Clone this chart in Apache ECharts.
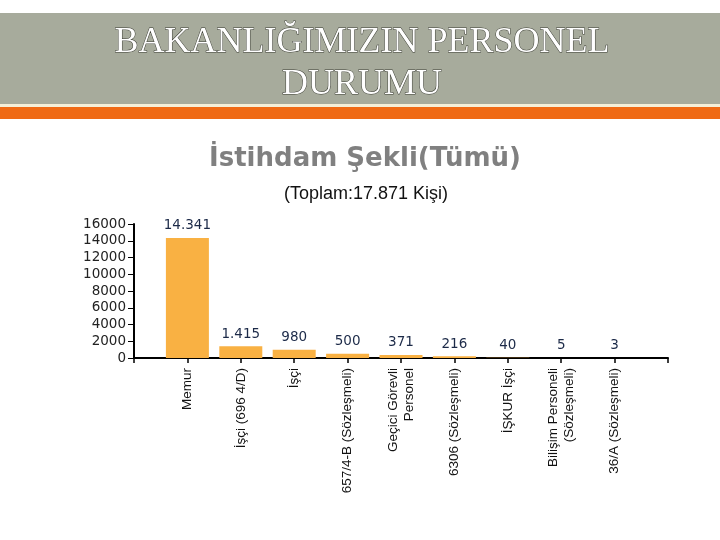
<!DOCTYPE html>
<html>
<head>
<meta charset="utf-8">
<script src="https://cdn.jsdelivr.net/npm/echarts@6/dist/echarts.min.js"></script>
<style>
html,body{margin:0;padding:0;background:#ffffff;}
#main{width:720px;height:540px;}
</style>
</head>
<body>
<div id="main"></div>
<script>
const bannerTitle = 'BAKANLIĞIMIZIN PERSONEL\nDURUMU';
const chartTitle = 'İstihdam Şekli(Tümü)';
const chartSubtitle = '(Toplam:17.871 Kişi)';
const categories = ['Memur', 'İşçi (696 4/D)', 'İşçi', '657/4-B (Sözleşmeli)', 'Geçici Görevli\nPersonel', '6306 (Sözleşmeli)', 'İŞKUR İşçi', 'Bilişim Personeli\n(Sözleşmeli)', '36/A (Sözleşmeli)'];
const values = [14341, 1415, 980, 500, 371, 216, 40, 5, 3];
const yTicks = [0, 2000, 4000, 6000, 8000, 10000, 12000, 14000, 16000];

// axis runs one slot past each end: pad categories with empty slots
const axisCats = [''].concat(categories, ['']);
const axisVals = [null].concat(values, [null]);

function trFormat(v) {
  return String(v).replace(/\B(?=(\d{3})+(?!\d))/g, '.');
}

const chart = echarts.init(document.getElementById('main'), null, {renderer: 'canvas'});
chart.setOption({
  backgroundColor: '#ffffff',
  animation: false,
  graphic: [
    {type: 'rect', shape: {x: 0, y: 13, width: 720, height: 91}, style: {fill: '#a7ab9c'}, z: 0},
    {type: 'rect', shape: {x: 0, y: 104, width: 720, height: 3}, style: {fill: '#f4efd9'}, z: 0},
    {type: 'rect', shape: {x: 0, y: 107, width: 720, height: 12}, style: {fill: '#ef6a15'}, z: 0}
  ],
  title: [
    {
      text: bannerTitle, left: 357, top: 17, textAlign: 'center',
      textStyle: {
        fontFamily: 'Liberation Serif', fontSize: 36, fontWeight: 'normal', color: '#ffffff',
        lineHeight: 42, textShadowColor: '#1e1e18', textShadowOffsetX: 2, textShadowOffsetY: 2, textShadowBlur: 0,
        textBorderColor: '#3a3c33', textBorderWidth: 1
      },
      z: 5
    },
    {
      text: chartTitle, left: 360, top: 141, textAlign: 'center',
      textStyle: {fontFamily: 'DejaVu Sans', fontSize: 26, fontWeight: 'bold', color: '#808080'}
    },
    {
      text: chartSubtitle, left: 361, top: 180, textAlign: 'center',
      textStyle: {fontFamily: 'Liberation Sans', fontSize: 18, fontWeight: 'normal', color: '#111111'}
    }
  ],
  grid: {left: 134, right: 52, top: 224, bottom: 182, containLabel: false},
  xAxis: {
    type: 'category',
    data: axisCats,
    boundaryGap: false,
    axisLine: {lineStyle: {color: '#000000', width: 2}},
    axisTick: {show: true, length: 5, lineStyle: {color: '#000000', width: 1.5}},
    axisLabel: {
      rotate: 90, interval: 0, margin: 10,
      fontFamily: 'Liberation Sans', fontSize: 13.5, color: '#111111', lineHeight: 16
    },
    splitLine: {show: false}
  },
  yAxis: {
    type: 'value',
    min: yTicks[0], max: yTicks[yTicks.length - 1], interval: 2000,
    axisLine: {show: true, lineStyle: {color: '#000000', width: 2}},
    axisTick: {show: true, length: 6, lineStyle: {color: '#000000', width: 1}},
    axisLabel: {fontFamily: 'DejaVu Sans', fontSize: 13.5, color: '#222222', margin: 8, formatter: v => String(v)},
    splitLine: {show: false}
  },
  series: [{
    type: 'bar',
    data: axisVals,
    barWidth: 43,
    itemStyle: {color: '#f9b143'},
    label: {
      show: true, position: 'top', distance: 5,
      fontFamily: 'DejaVu Sans', fontSize: 13.5, color: '#1c2a48',
      formatter: p => p.value == null ? '' : trFormat(p.value)
    }
  }]
});
</script>
</body>
</html>
